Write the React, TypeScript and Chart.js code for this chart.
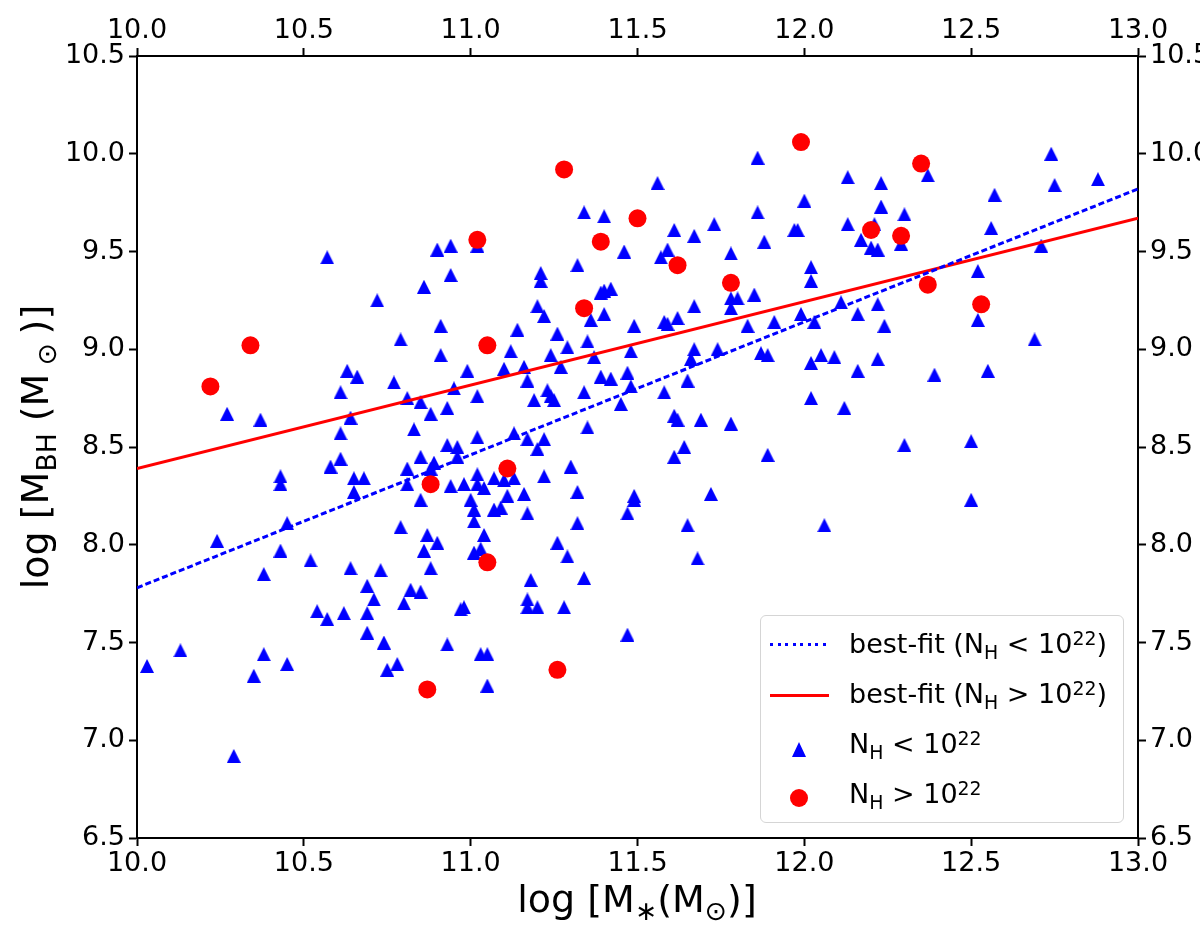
import { useEffect, useRef } from 'react';
import { Chart, registerables } from 'chart.js';

Chart.register(...registerables);

// N_H < 10^22 sources (blue triangles): log M* and log M_BH
const lowMass = [
  10.57, 10.90, 10.94, 11.02, 10.94, 10.86, 10.72, 10.91, 10.79, 10.91, 10.99, 10.63, 10.66, 10.61, 10.77, 10.95,
  11.02, 10.81, 10.85, 10.88, 10.93, 10.27, 10.37, 10.64, 10.61, 10.83, 11.02, 10.93, 10.96, 10.96, 10.61, 10.58,
  10.85, 10.89, 10.81, 10.88, 10.43, 10.43, 10.65, 10.68, 10.65, 10.81, 10.94, 10.98, 11.02, 11.00, 10.85, 11.01,
  11.01, 10.45, 10.79, 10.24, 10.43, 10.52, 10.38, 10.87, 10.90, 10.86, 10.88, 10.64, 10.73, 10.69, 10.71, 10.82,
  10.85, 10.80, 11.01, 10.54, 10.57, 10.62, 10.69, 10.69, 10.74, 10.93, 10.97, 10.98, 10.75, 10.78, 10.03, 10.13,
  10.38, 10.35, 10.45, 10.29, 11.03, 11.05, 11.05, 11.13, 11.17, 11.22, 11.20, 11.35, 11.02, 11.04, 11.07, 11.10,
  11.13, 11.11, 11.16, 11.07, 11.09, 11.17, 11.22, 11.30, 11.32, 11.32, 11.49, 11.49, 11.47, 11.61, 11.04, 11.03,
  11.26, 11.29, 11.34, 11.18, 11.17, 11.20, 11.17, 11.28, 11.47, 11.21, 11.21, 11.32, 11.46, 11.57, 11.59, 11.61,
  11.39, 11.40, 11.42, 11.40, 11.36, 11.20, 11.22, 11.14, 11.26, 11.12, 11.24, 11.29, 11.35, 11.37, 11.49, 11.58,
  11.59, 11.62, 11.48, 11.10, 11.16, 11.17, 11.27, 11.19, 11.23, 11.24, 11.25, 11.34, 11.39, 11.42, 11.47, 11.48,
  11.45, 11.58, 11.61, 11.62, 11.34, 11.40, 11.56, 11.67, 11.86, 12.13, 12.23, 12.00, 11.86, 12.23, 12.30, 12.57,
  12.56, 12.13, 12.21, 11.73, 11.97, 11.98, 11.88, 12.17, 12.20, 12.22, 12.29, 11.78, 12.02, 12.02, 12.52, 11.78,
  11.80, 11.78, 11.85, 11.67, 11.83, 11.91, 11.99, 12.03, 12.11, 12.16, 12.22, 12.24, 12.52, 11.67, 11.66, 11.74,
  11.87, 11.89, 12.02, 12.05, 12.09, 12.22, 12.16, 12.39, 12.55, 11.65, 12.02, 12.12, 11.69, 11.78, 12.74, 12.75,
  12.88, 12.37, 12.71, 12.69, 12.30, 12.50, 12.50, 11.64, 11.89, 11.72, 11.65, 12.06, 11.68,
];
const lowBH = [
  9.47, 9.51, 9.53, 9.53, 9.38, 9.32, 9.25, 9.12, 9.05, 8.97, 8.89, 8.89, 8.86, 8.78, 8.83, 8.80,
  8.76, 8.75, 8.73, 8.67, 8.70, 8.67, 8.64, 8.65, 8.57, 8.59, 8.55, 8.51, 8.50, 8.45, 8.44, 8.40,
  8.45, 8.42, 8.39, 8.39, 8.35, 8.31, 8.34, 8.34, 8.27, 8.31, 8.30, 8.31, 8.31, 8.23, 8.23, 8.18,
  8.12, 8.11, 8.09, 8.02, 7.97, 7.92, 7.85, 8.05, 8.01, 7.97, 7.88, 7.88, 7.87, 7.79, 7.72, 7.77,
  7.76, 7.70, 7.96, 7.66, 7.62, 7.65, 7.65, 7.55, 7.50, 7.49, 7.67, 7.68, 7.36, 7.39, 7.38, 7.46,
  7.44, 7.33, 7.39, 6.92, 7.44, 7.44, 7.28, 8.57, 8.54, 8.54, 8.49, 8.60, 8.36, 8.29, 8.34, 8.33,
  8.34, 8.25, 8.26, 8.18, 8.19, 8.16, 8.35, 8.40, 8.27, 8.11, 8.25, 8.23, 8.16, 8.45, 8.05, 7.98,
  8.01, 7.94, 7.83, 7.82, 7.72, 7.68, 7.68, 7.68, 7.54, 9.39, 9.35, 9.43, 9.50, 9.47, 9.51, 9.61,
  9.29, 9.30, 9.31, 9.18, 9.15, 9.22, 9.17, 9.10, 9.08, 8.99, 8.97, 9.01, 9.04, 8.96, 9.12, 9.14,
  9.13, 9.16, 8.99, 8.90, 8.91, 8.84, 8.91, 8.74, 8.79, 8.76, 8.74, 8.78, 8.86, 8.85, 8.88, 8.81,
  8.72, 8.78, 8.66, 8.64, 9.70, 9.68, 9.85, 9.58, 9.98, 9.88, 9.85, 9.76, 9.70, 9.73, 9.69, 9.79,
  9.62, 9.64, 9.64, 9.64, 9.61, 9.61, 9.55, 9.56, 9.52, 9.51, 9.54, 9.49, 9.42, 9.35, 9.40, 9.26,
  9.26, 9.21, 9.28, 9.22, 9.12, 9.14, 9.18, 9.14, 9.24, 9.18, 9.23, 9.12, 9.15, 9.00, 8.95, 9.00,
  8.98, 8.97, 8.93, 8.97, 8.96, 8.95, 8.89, 8.87, 8.89, 8.84, 8.75, 8.70, 8.64, 8.62, 10.00, 9.84,
  9.87, 9.89, 9.53, 9.05, 8.51, 8.53, 8.23, 8.50, 8.46, 8.26, 8.10, 8.10, 7.93,
];

// N_H > 10^22 sources (red circles)
const highMass = [
  10.22, 10.34, 10.88, 11.02, 11.05, 11.28, 11.39, 11.50, 11.34, 11.11, 11.05,
  10.87, 11.26, 11.62, 11.78, 11.99, 12.20, 12.29, 12.35, 12.37, 12.53,
];
const highBH = [
  8.81, 9.02, 8.31, 9.56, 9.02, 9.92, 9.55, 9.67, 9.21, 8.39, 7.91,
  7.26, 7.36, 9.43, 9.34, 10.06, 9.61, 9.58, 9.95, 9.33, 9.23,
];

// best-fit relations
const fitMass = [10.0, 13.0];
const fitLowBH = [7.78, 9.82];
const fitHighBH = [8.39, 9.67];

const xTicks = [10.0, 10.5, 11.0, 11.5, 12.0, 12.5, 13.0];
const yTicks = [6.5, 7.0, 7.5, 8.0, 8.5, 9.0, 9.5, 10.0, 10.5];

const FONT = 'DejaVu Sans';
const W = 1200;
const H = 929;

const makeAxis = (position: string, min: number, max: number, ticks: number[], size: number, pad: number) => ({
  type: 'linear',
  position,
  min,
  max,
  afterBuildTicks: (s: any) => {
    s.ticks = ticks.map((v) => ({ value: v }));
  },
  afterFit: (s: any) => {
    if (position === 'top' || position === 'bottom') s.height = size;
    else s.width = size;
  },
  grid: {
    display: true,
    drawOnChartArea: false,
    drawTicks: true,
    tickLength: 8,
    tickWidth: 2,
    tickColor: '#000',
  },
  border: { display: true, color: '#000', width: 2 },
  ticks: {
    color: '#000',
    font: { family: FONT, size: 27 },
    padding: pad,
    autoSkip: false,
    maxRotation: 0,
    callback: (v: any) => Number(v).toFixed(1),
  },
});

const sub = { fontSize: '0.7em', position: 'relative' as const, top: '0.3em' };
const sup = { fontSize: '0.7em', position: 'relative' as const, top: '-0.45em' };

const legendText = (top: number, content: any) => (
  <div
    style={{
      position: 'absolute',
      left: 849,
      top,
      height: 36,
      lineHeight: '36px',
      fontSize: 27,
      fontFamily: FONT,
      whiteSpace: 'nowrap',
      color: '#000',
    }}
  >
    {content}
  </div>
);

export default function App() {
  const canvasRef = useRef<HTMLCanvasElement | null>(null);

  useEffect(() => {
    const tri = document.createElement('canvas');
    tri.width = 14;
    tri.height = 14;
    const t = tri.getContext('2d')!;
    t.fillStyle = '#0000ff';
    t.beginPath();
    t.moveTo(7, 0);
    t.lineTo(14, 14);
    t.lineTo(0, 14);
    t.closePath();
    t.fill();

    const chart = new Chart(canvasRef.current!, {
      type: 'scatter',
      data: {
        datasets: [
          {
            label: 'best-fit low',
            data: fitMass.map((x, i) => ({ x, y: fitLowBH[i] })),
            showLine: true,
            borderColor: '#0000ff',
            borderWidth: 3,
            borderDash: [6, 3],
            pointRadius: 0,
            order: 0,
          },
          {
            label: 'best-fit high',
            data: fitMass.map((x, i) => ({ x, y: fitHighBH[i] })),
            showLine: true,
            borderColor: '#ff0000',
            borderWidth: 3,
            pointRadius: 0,
            order: 1,
          },
          {
            label: 'NH > 1e22',
            data: highMass.map((x, i) => ({ x, y: highBH[i] })),
            pointStyle: 'circle',
            pointRadius: 9,
            borderWidth: 0,
            backgroundColor: '#ff0000',
            borderColor: '#ff0000',
            order: 2,
          },
          {
            label: 'NH < 1e22',
            data: lowMass.map((x, i) => ({ x, y: lowBH[i] })),
            pointStyle: tri,
            pointRadius: 7,
            backgroundColor: '#0000ff',
            borderColor: '#0000ff',
            order: 3,
          },
        ],
      } as any,
      options: {
        responsive: false,
        animation: false,
        layout: { padding: 0 },
        plugins: { legend: { display: false }, tooltip: { enabled: false } },
        scales: {
          x: makeAxis('bottom', 10, 13, xTicks, H - 838, 2),
          x2: makeAxis('top', 10, 13, xTicks, 56, 1),
          y: makeAxis('left', 6.5, 10.5, yTicks, 137, 4),
          y2: makeAxis('right', 6.5, 10.5, yTicks, W - 1138, 4),
        } as any,
      },
    });

    return () => chart.destroy();
  }, []);

  return (
    <div style={{ position: 'absolute', left: 0, top: 0, width: W, height: H, background: '#fff', overflow: 'hidden' }}>
      <canvas ref={canvasRef} width={W} height={H} style={{ position: 'absolute', left: 0, top: 0 }} />

      {/* axis titles */}
      <div
        style={{
          position: 'absolute',
          left: 387,
          top: 880,
          width: 500,
          height: 38,
          lineHeight: '38px',
          textAlign: 'center',
          fontFamily: FONT,
          fontSize: 38,
          whiteSpace: 'nowrap',
        }}
      >
        log [M<span style={sub}>∗</span>(M<span style={sub}>⊙</span>)]
      </div>
      <div
        style={{
          position: 'absolute',
          left: 35 - 250,
          top: 447 - 23,
          width: 500,
          height: 46,
          lineHeight: '46px',
          textAlign: 'center',
          fontFamily: FONT,
          fontSize: 38,
          whiteSpace: 'nowrap',
          transform: 'rotate(-90deg)',
        }}
      >
        log [M<span style={sub}>BH</span> (M<span style={sub}> ⊙ </span>)]
      </div>

      {/* legend */}
      <div
        style={{
          position: 'absolute',
          left: 760,
          top: 615,
          width: 362,
          height: 206,
          border: '1.5px solid #d5d5d5',
          borderRadius: 6,
          background: 'rgba(255,255,255,0.8)',
        }}
      />
      <div
        style={{
          position: 'absolute',
          left: 770,
          top: 643,
          width: 57,
          height: 3,
          background: 'repeating-linear-gradient(to right, #0000ff 0 3px, transparent 3px 7.5px)',
        }}
      />
      <div style={{ position: 'absolute', left: 770, top: 694, width: 59, height: 3, background: '#ff0000' }} />
      <div
        style={{
          position: 'absolute',
          left: 792,
          top: 742,
          width: 0,
          height: 0,
          borderLeft: '7.5px solid transparent',
          borderRight: '7.5px solid transparent',
          borderBottom: '15px solid #0000ff',
        }}
      />
      <div
        style={{
          position: 'absolute',
          left: 790,
          top: 789,
          width: 18,
          height: 18,
          borderRadius: '50%',
          background: '#ff0000',
        }}
      />
      {legendText(
        626,
        <>
          best-fit (N<span style={sub}>H</span> &lt; 10<span style={sup}>22</span>)
        </>,
      )}
      {legendText(
        676,
        <>
          best-fit (N<span style={sub}>H</span> &gt; 10<span style={sup}>22</span>)
        </>,
      )}
      {legendText(
        726,
        <>
          N<span style={sub}>H</span> &lt; 10<span style={sup}>22</span>
        </>,
      )}
      {legendText(
        776,
        <>
          N<span style={sub}>H</span> &gt; 10<span style={sup}>22</span>
        </>,
      )}
    </div>
  );
}
